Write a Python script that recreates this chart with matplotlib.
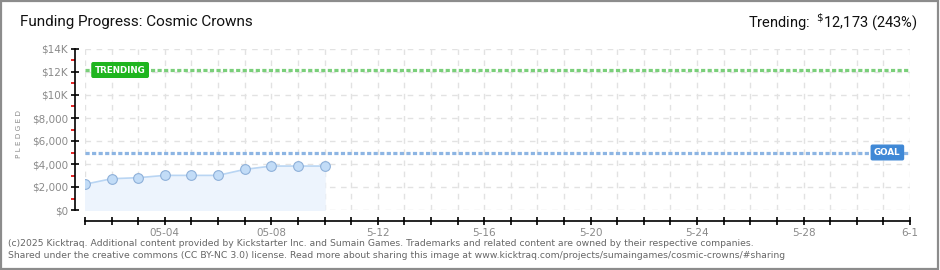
import matplotlib
matplotlib.use("Agg")
import matplotlib.pyplot as plt
from matplotlib.patches import Rectangle
from matplotlib.ticker import NullLocator, FixedLocator

# ---- data ----
days = [0, 1, 2, 3, 4, 5, 6, 7, 8, 9]          # days since May 1
pledged = [2240, 2720, 2810, 3010, 3010, 3010, 3530, 3820, 3820, 3820]
goal = 5000
trending = 12173
x_end = 31
xtick_days = [3, 7, 11, 15, 19, 23, 27, 31]
xtick_labels = ["05-04", "05-08", "5-12", "5-16", "5-20", "5-24", "5-28", "6-1"]
ytick_vals = [0, 2000, 4000, 6000, 8000, 10000, 12000, 14000]
ytick_labels = ["$0", "$2,000", "$4,000", "$6,000", "$8,000", "$10K", "$12K", "$14K"]
yminor_vals = [1000, 3000, 5000, 7000, 9000, 11000, 13000]

W, H = 940, 270
fig = plt.figure(figsize=(W / 100, H / 100), dpi=100)
fig.patch.set_facecolor("white")

def fx(px): return px / W
def fy(py): return 1 - py / H

ax = fig.add_axes([fx(85), fy(210), fx(910) - fx(85), fy(49) - fy(210)])
ax.set_xlim(0, x_end)
ax.set_ylim(0, 14000)
ax.set_facecolor("none")

# grid
for d in range(0, x_end + 1):
    ax.axvline(d, color="#e2e2e2", lw=1.0, ls=(0, (4, 4)), zorder=0)
for v in ytick_vals:
    ax.axhline(v, color="#e2e2e2", lw=1.0, ls=(0, (4, 4)), zorder=0)

# data
ax.fill_between(days, pledged, 0, color="#edf4fd", zorder=1)
ax.plot(days, pledged, color="#b9d5f3", lw=1.2, zorder=2)
ax.plot(days, pledged, ls="none", marker="o", ms=7, mfc="#c2dcf7", mec="#8eb0d9", mew=0.8, zorder=3)

# goal & trending lines
ax.axhline(goal, color="#8db5e3", lw=2.3, ls=(0, (1.3, 0.75)), zorder=2)
ax.axhline(trending, color="#7acf7a", lw=2.3, ls=(0, (1.3, 0.75)), zorder=2)

# labels on lines
ax.text(1.32, trending, "TRENDING", fontsize=6.3, color="white", fontweight="bold",
        ha="center", va="center", zorder=5, family="DejaVu Sans",
        bbox=dict(boxstyle="round,pad=0.32,rounding_size=0.15", fc="#1fb51f", ec="#1fb51f"))
ax.text(30.15, goal, "GOAL", fontsize=6.3, color="white", fontweight="bold",
        ha="center", va="center", zorder=5, family="DejaVu Sans",
        bbox=dict(boxstyle="round,pad=0.32,rounding_size=0.15", fc="#3f88d6", ec="#3f88d6"))

# spines
for s in ["top", "right"]:
    ax.spines[s].set_visible(False)
ax.spines["left"].set_position(("outward", 7.2))
ax.spines["bottom"].set_position(("outward", 7.9))
for s in ["left", "bottom"]:
    ax.spines[s].set_color("black")
    ax.spines[s].set_linewidth(1.2)

ax.yaxis.set_major_locator(FixedLocator(ytick_vals))
ax.set_yticklabels(ytick_labels)
ax.yaxis.set_minor_locator(FixedLocator(yminor_vals))
ax.tick_params(axis="y", which="major", direction="inout", length=6, width=1.2,
               color="black", labelsize=7.5, labelcolor="#8a8a8a", pad=2)
ax.tick_params(axis="y", which="minor", direction="out", length=3, width=1.2, color="#e00000")

ax.xaxis.set_major_locator(FixedLocator(list(range(0, x_end + 1))))
ax.xaxis.set_minor_locator(NullLocator())
labels = [""] * (x_end + 1)
for d, l in zip(xtick_days, xtick_labels):
    labels[d] = l
ax.set_xticklabels(labels)
ax.tick_params(axis="x", which="major", direction="inout", length=6, width=1.2,
               color="black", labelsize=7.5, labelcolor="#8a8a8a", pad=2)

fig.text(fx(19), fy(134), "P L E D G E D", rotation=90, fontsize=5.2, color="#8a8a8a",
         ha="center", va="center")

# titles
fig.text(fx(20), fy(22), "Funding Progress: Cosmic Crowns", fontsize=11, color="#111111",
         ha="left", va="center", family="Roboto")
fig.text(fx(918), fy(22), r"Trending:  $^{\$}$12,173 (243%)", fontsize=10.5, color="#111111",
         ha="right", va="center", family="Roboto")

# footer
fig.text(fx(8), fy(243), "(c)2025 Kicktraq. Additional content provided by Kickstarter Inc. and Sumain Games. Trademarks and related content are owned by their respective companies.",
         fontsize=6.65, color="#666666", ha="left", va="center")
fig.text(fx(8), fy(256), "Shared under the creative commons (CC BY-NC 3.0) license. Read more about sharing this image at www.kicktraq.com/projects/sumaingames/cosmic-crowns/#sharing",
         fontsize=6.65, color="#666666", ha="left", va="center")

# border
fig.patches.append(Rectangle((0.001, 0.002), 0.997, 0.995, transform=fig.transFigure,
                             fill=False, ec="#8c8c8c", lw=1.6))

fig.savefig("out.png", dpi=100)
